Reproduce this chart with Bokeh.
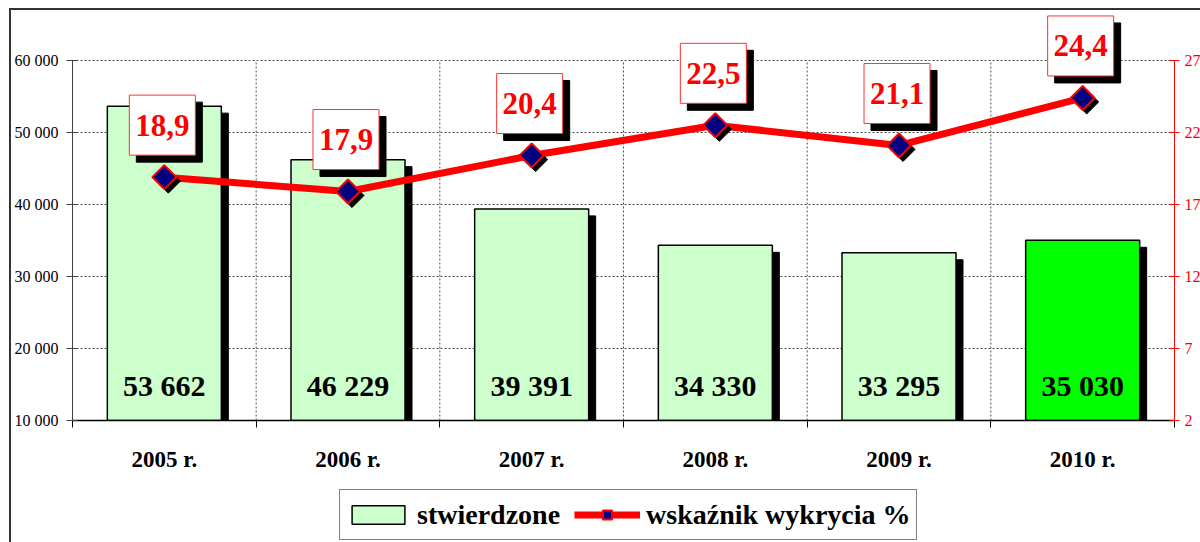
import math
from bokeh.plotting import figure
from bokeh.layouts import column
from bokeh.models import (Range1d, LinearAxis, FixedTicker, ColumnDataSource,
                          Legend, LegendItem)
from bokeh.core.properties import value
from bokeh.embed import file_html
from bokeh.resources import INLINE

# ---------------- data ----------------
years = ["2005 r.", "2006 r.", "2007 r.", "2008 r.", "2009 r.", "2010 r."]
stwierdzone = [53662, 46229, 39391, 34330, 33295, 35030]
wskaznik = [18.9, 17.9, 20.4, 22.5, 21.1, 24.4]
left_ticks = [10000, 20000, 30000, 40000, 50000, 60000]
left_tick_labels = ["10 000", "20 000", "30 000", "40 000", "50 000", "60 000"]
right_ticks = [2, 7, 12, 17, 22, 27]
right_tick_labels = ["2", "7", "12", "17", "22", "27"]
series_names = ["stwierdzone", "wskaźnik wykrycia %"]

# ---------------- styles ----------------
bar_colors = ["#CCFFCC", "#CCFFCC", "#CCFFCC", "#CCFFCC", "#CCFFCC", "#00FF00"]
SERIF = "Liberation Serif"
ML, MR = 61, 26             # left / right borders of the frame
FW, FH = 1102, 408          # frame size in px
TOP_PAD = 48                # px above the top tick inside the frame
TICK_SPAN = FH - TOP_PAD    # px between first and last tick
BOTTOM = 62                 # px below the frame for the x labels
LEG_H = 60                  # height of the legend strip

n = len(years)
xs = list(range(n))
ux = n / FW                                            # x data per px
uyl = (left_ticks[-1] - left_ticks[0]) / TICK_SPAN     # left data per px
uyr = (right_ticks[-1] - right_ticks[0]) / TICK_SPAN   # right data per px

p = figure(frame_width=FW, frame_height=FH,
           x_range=Range1d(-0.5, n - 0.5),
           y_range=Range1d(left_ticks[0], left_ticks[-1] + TOP_PAD * uyl),
           output_backend="svg", toolbar_location=None,
           min_border_left=ML, min_border_right=MR, min_border_top=2,
           min_border_bottom=BOTTOM)
p.extra_y_ranges = {"pct": Range1d(right_ticks[0], right_ticks[-1] + TOP_PAD * uyr)}
p.outline_line_color = None
p.background_fill_color = "white"
p.border_fill_color = "white"

# ---------------- axes ----------------
xa = p.xaxis[0]
xa.ticker = FixedTicker(ticks=xs, minor_ticks=[i - 0.5 for i in range(n + 1)])
xa.major_label_overrides = {i: years[i] for i in xs}
xa.axis_line_color = "black"
xa.axis_line_width = 1.5
xa.major_tick_in = 0
xa.major_tick_out = 0
xa.minor_tick_in = 0
xa.minor_tick_out = 7
xa.minor_tick_line_color = "black"
xa.major_label_text_font = SERIF
xa.major_label_text_font_style = "bold"
xa.major_label_text_font_size = "23px"
xa.major_label_text_color = "black"
xa.major_label_standoff = 19

ya = p.yaxis[0]
lticker = FixedTicker(ticks=left_ticks)
ya.ticker = lticker
ya.major_label_overrides = {t: l for t, l in zip(left_ticks, left_tick_labels)}
ya.bounds = (left_ticks[0], left_ticks[-1])
ya.axis_line_color = "#404040"
ya.major_tick_line_color = "#404040"
ya.major_tick_in = 5
ya.major_tick_out = 6
ya.minor_tick_line_color = None
ya.major_label_text_font = SERIF
ya.major_label_text_font_size = "16px"
ya.major_label_text_color = "black"
ya.major_label_text_baseline = "bottom"
ya.major_label_standoff = 8

ra = LinearAxis(y_range_name="pct", ticker=FixedTicker(ticks=right_ticks),
                bounds=(right_ticks[0], right_ticks[-1]))
ra.major_label_overrides = {t: l for t, l in zip(right_ticks, right_tick_labels)}
ra.axis_line_color = "#FF0000"
ra.major_tick_line_color = "#FF0000"
ra.major_tick_in = 5
ra.major_tick_out = 5
ra.minor_tick_line_color = None
ra.major_label_text_font = SERIF
ra.major_label_text_font_size = "16px"
ra.major_label_text_color = "#FF0000"
ra.major_label_standoff = 5
p.add_layout(ra, "right")

# ---------------- grid ----------------
p.xgrid.visible = False
p.ygrid.ticker = lticker
p.ygrid.grid_line_color = "#505050"
p.ygrid.grid_line_dash = "2 2"
p.ygrid.grid_line_width = 1
bounds_x = [i + 0.5 for i in range(n - 1)]
p.segment(x0=bounds_x, x1=bounds_x, y0=left_ticks[0], y1=left_ticks[-1],
          line_color="#505050", line_dash="2 2", line_width=1)

# ---------------- sources ----------------
src = ColumnDataSource(dict(
    x=xs,
    v=stwierdzone,
    pct=wskaznik,
    color=bar_colors,
    vlab=[f"{v:,}".replace(",", " ") for v in stwierdzone],
    plab=[f"{v:.1f}".replace(".", ",") for v in wskaznik],
    x_sh=[x + 7 * ux for x in xs],
    v_sh=[v - 7 * uyl for v in stwierdzone],
    x_msh=[x + 4 * ux for x in xs],
    p_msh=[v - 4 * uyr for v in wskaznik],
    x_box=[x - 2 * ux for x in xs],
    p_box=[v + 52 * uyr for v in wskaznik],
    x_bsh=[x + 5 * ux for x in xs],
    p_bsh=[v + 45 * uyr for v in wskaznik],
))

# ---------------- bars ----------------
BW = 114 * ux
BAR_STYLE = dict(line_color="black", line_width=1.5)
p.vbar(x="x_sh", top="v_sh", bottom=0, width=BW, source=src,
       fill_color="black", line_color="black")
p.vbar(x="x", top="v", bottom=0, width=BW, source=src,
       fill_color="color", **BAR_STYLE)

p.text(x="x", y=left_ticks[0], text="vlab", source=src, y_offset=-35,
       text_font=value(SERIF), text_font_style="bold", text_font_size="30px",
       text_color="black", text_align="center", text_baseline="middle")

# ---------------- line ----------------
LINE_STYLE = dict(line_color="#FF0000", line_width=7)
MARK_STYLE = dict(marker="square", size=17, angle=math.pi / 4, fill_color="#000080",
                  line_color="#FF0000", line_width=2)
p.line(x="x", y="pct", source=src, y_range_name="pct", **LINE_STYLE)
p.scatter(x="x_msh", y="p_msh", source=src, y_range_name="pct", marker="square",
          size=17, angle=math.pi / 4, fill_color="black", line_color="black")
p.scatter(x="x", y="pct", source=src, y_range_name="pct", **MARK_STYLE)

# value boxes
p.rect(x="x_bsh", y="p_bsh", width=66, height=60, width_units="screen",
       height_units="screen", source=src, y_range_name="pct",
       fill_color="black", line_color="black")
p.rect(x="x_box", y="p_box", width=66, height=60, width_units="screen",
       height_units="screen", source=src, y_range_name="pct",
       fill_color="white", line_color="#FF3030", line_width=1)
p.text(x="x_box", y="pct", text="plab", source=src, y_range_name="pct", y_offset=-52,
       text_font=value(SERIF), text_font_style="bold", text_font_size="31px",
       text_color="#FF0000", text_align="center", text_baseline="middle")

# ---------------- legend strip ----------------
# Hidden glyphs that only feed the legend.
lf = figure(width=ML + FW + MR, height=LEG_H,
            x_range=Range1d(-0.5, n - 0.5), y_range=Range1d(0, 1),
            output_backend="svg", toolbar_location=None,
            x_axis_location=None, y_axis_location=None,
            min_border=0, min_border_left=0, min_border_right=0,
            min_border_top=0, min_border_bottom=0)
lf.outline_line_color = None
lf.xgrid.visible = False
lf.ygrid.visible = False
lf.background_fill_color = "white"
lf.border_fill_color = "white"
leg_bar = lf.vbar(x="x", top="v", bottom=0, width=0.5, source=src,
                  fill_color="color", visible=False, **BAR_STYLE)
leg_line = lf.line(x="x", y="pct", source=src, visible=False, **LINE_STYLE)
leg_mark = lf.scatter(x="x", y="pct", source=src, visible=False, **MARK_STYLE)

legend = Legend(items=[LegendItem(label=series_names[0], renderers=[leg_bar], index=0),
                       LegendItem(label=series_names[1], renderers=[leg_line, leg_mark],
                                  index=0)],
                orientation="horizontal", location=(267, 2))
legend.label_text_font = SERIF
legend.label_text_font_style = "bold"
legend.label_text_font_size = "28px"
legend.label_text_color = "black"
legend.label_height = 39
legend.border_line_color = "black"
legend.border_line_width = 1.5
legend.background_fill_color = "white"
legend.background_fill_alpha = 1
legend.padding = 5
legend.spacing = 14
legend.label_standoff = 6
legend.glyph_width = 66
legend.glyph_height = 23
legend.margin = 0
lf.add_layout(legend)

layout = column(p, lf, spacing=0)
layout.styles = {"border-top": "2px solid #333333", "border-left": "2px solid #333333",
                 "margin-left": "9px", "margin-top": "8px"}

open("out.html", "w").write(file_html(layout, INLINE))
